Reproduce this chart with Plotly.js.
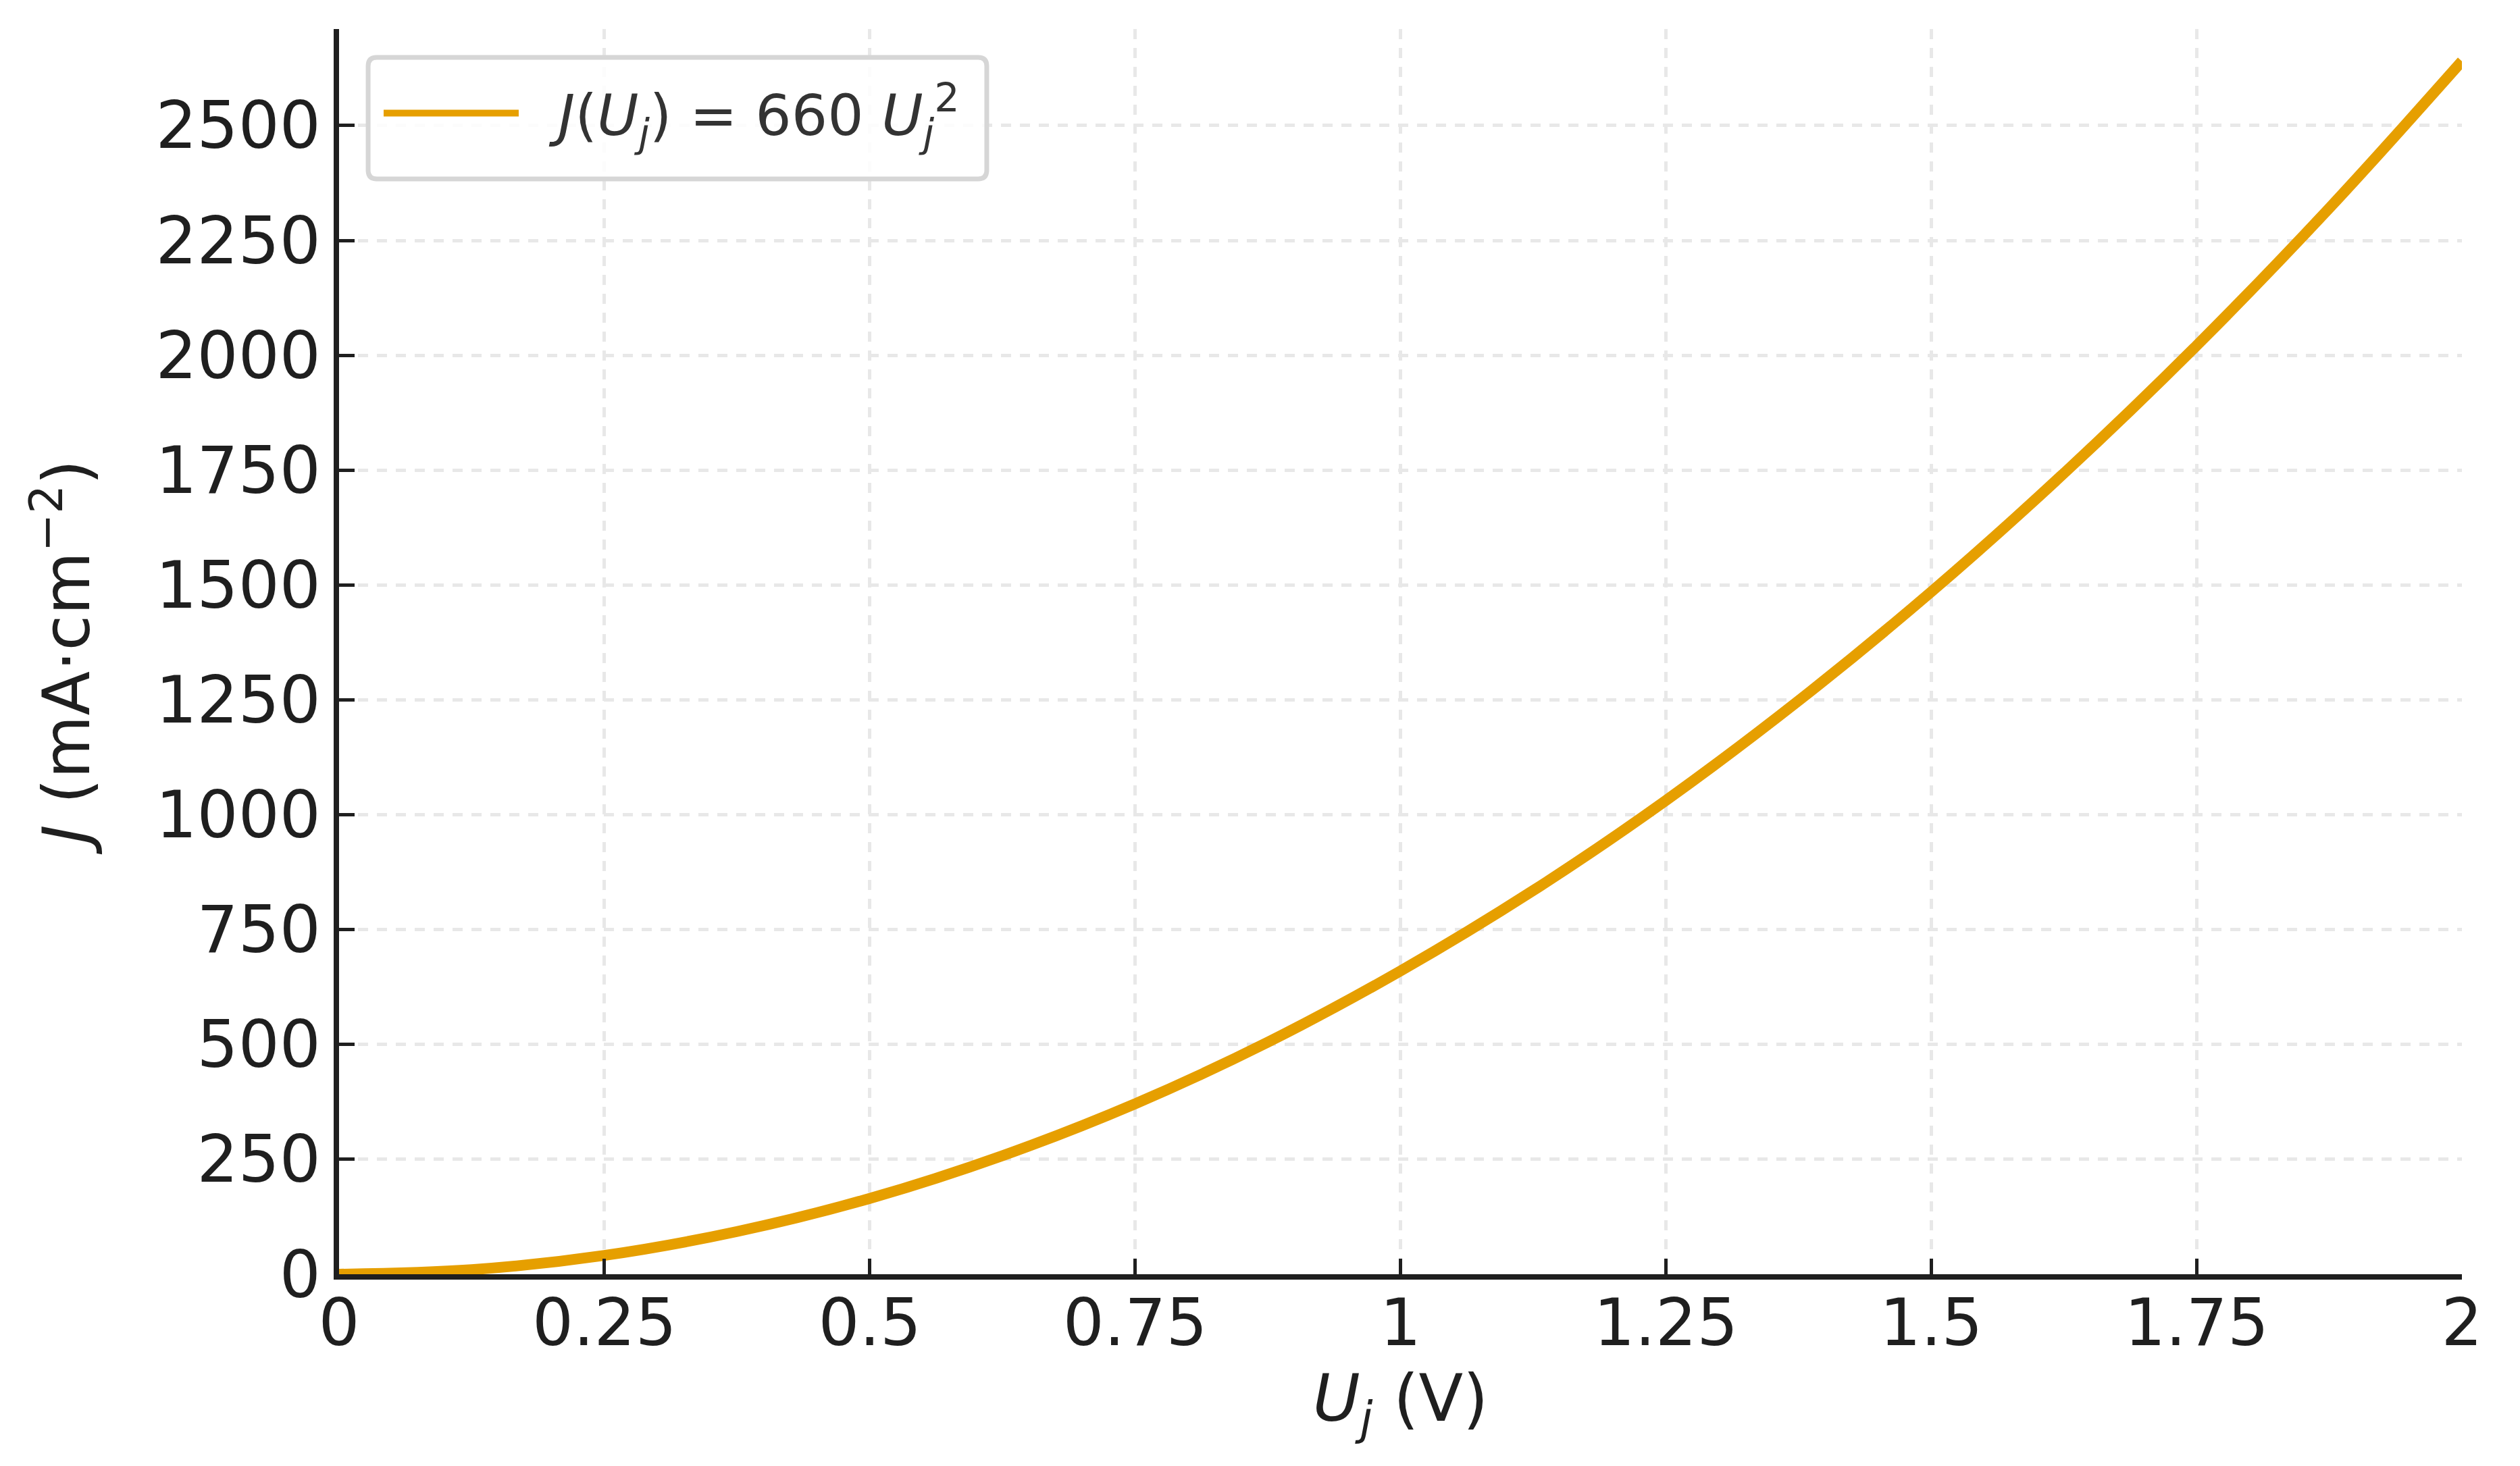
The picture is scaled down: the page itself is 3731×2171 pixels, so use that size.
<!DOCTYPE html>
<html>
<head>
<meta charset="utf-8">
<script src="https://cdn.plot.ly/plotly-3.0.1.min.js"></script>
<style>
  html, body { margin: 0; padding: 0; background: #fff; }
  #plot { width: 3731px; height: 2171px; }
</style>
</head>
<body>
<div id="plot"></div>
<script>
(function () {
  'use strict';

  /* values */
  var U_J = [0, 0.125, 0.25, 0.375, 0.5, 0.625, 0.75, 0.875, 1, 1.125, 1.25, 1.375, 1.5, 1.625, 1.75, 1.875, 2];
  var J_VALUES = [0, 10, 41, 93, 165, 258, 371, 505, 660, 835, 1031, 1248, 1485, 1743, 2021, 2320, 2640];

  var X_TICKS = [0, 0.25, 0.5, 0.75, 1, 1.25, 1.5, 1.75, 2];
  var X_TICK_TEXT = ['0', '0.25', '0.5', '0.75', '1', '1.25', '1.5', '1.75', '2'];
  var Y_TICKS = [0, 250, 500, 750, 1000, 1250, 1500, 1750, 2000, 2250, 2500];

  var SERIES_NAME = '&nbsp;&nbsp;<i>J</i>(<i>U</i><sub><i>j</i></sub>) = 660 <i>U</i><sub><i>j</i></sub><sup>2</sup>';
  var ORANGE = '#E69F00';
  var FONT = 'DejaVu Sans, sans-serif';
  var INK = '#1f1f1f';

  /* rounded frame behind the legend (paper coords) */
  function roundedBox(x0, x1, y0, y1, rx, ry) {
    return 'M' + (x0 + rx) + ',' + y1 + ' L' + (x1 - rx) + ',' + y1 +
      ' Q' + x1 + ',' + y1 + ' ' + x1 + ',' + (y1 - ry) +
      ' L' + x1 + ',' + (y0 + ry) +
      ' Q' + x1 + ',' + y0 + ' ' + (x1 - rx) + ',' + y0 +
      ' L' + (x0 + rx) + ',' + y0 +
      ' Q' + x0 + ',' + y0 + ' ' + x0 + ',' + (y0 + ry) +
      ' L' + x0 + ',' + (y1 - ry) +
      ' Q' + x0 + ',' + y1 + ' ' + (x0 + rx) + ',' + y1 + ' Z';
  }

  var axisCommon = {
    showline: true, linecolor: INK, linewidth: 8,
    ticks: 'inside', ticklen: 23, tickwidth: 5, tickcolor: INK,
    showgrid: true, gridcolor: '#e8e8e8', gridwidth: 5, griddash: '15px,13px',
    zeroline: false, mirror: false,
    tickfont: { family: FONT, size: 96, color: INK },
    fixedrange: true
  };

  var layout = {
    width: 3731, height: 2171,
    margin: { l: 502, r: 86, t: 43, b: 284 },
    paper_bgcolor: '#fff', plot_bgcolor: '#fff',
    font: { family: FONT, size: 96, color: INK },
    showlegend: true,
    legend: {
      x: 0.0194, y: 0.9322, xanchor: 'left', yanchor: 'middle',
      bgcolor: 'rgba(0,0,0,0)', borderwidth: 0,
      itemwidth: 200,
      font: { family: FONT, size: 84, color: '#333' }
    },
    shapes: [{
      type: 'path', xref: 'paper', yref: 'paper', layer: 'above',
      path: roundedBox(0.0137, 0.3051, 0.8796, 0.9772, 0.0041, 0.0070),
      fillcolor: 'rgba(255,255,255,0.85)', line: { color: '#d6d6d6', width: 7 }
    }],
    xaxis: Object.assign({}, axisCommon, {
      range: [0, 2],
      tickvals: X_TICKS, ticktext: X_TICK_TEXT,
      ticklabelstandoff: -18,
      title: { text: '<i>U</i><sub><i>j</i></sub> (V)', font: { family: FONT, size: 96, color: INK }, standoff: 24 }
    }),
    yaxis: Object.assign({}, axisCommon, {
      range: [0, 2710],
      tickvals: Y_TICKS,
      title: { text: '<i>J</i> (mA·cm<sup>−2</sup>)', font: { family: FONT, size: 96, color: INK }, standoff: 69 }
    })
  };

  Plotly.newPlot('plot', [
    { x: U_J, y: J_VALUES, mode: 'lines', line: { color: ORANGE, width: 16, shape: 'spline' },
      name: SERIES_NAME, hoverinfo: 'skip' }
  ], layout, { displayModeBar: false, staticPlot: true });
})();
</script>
</body>
</html>
